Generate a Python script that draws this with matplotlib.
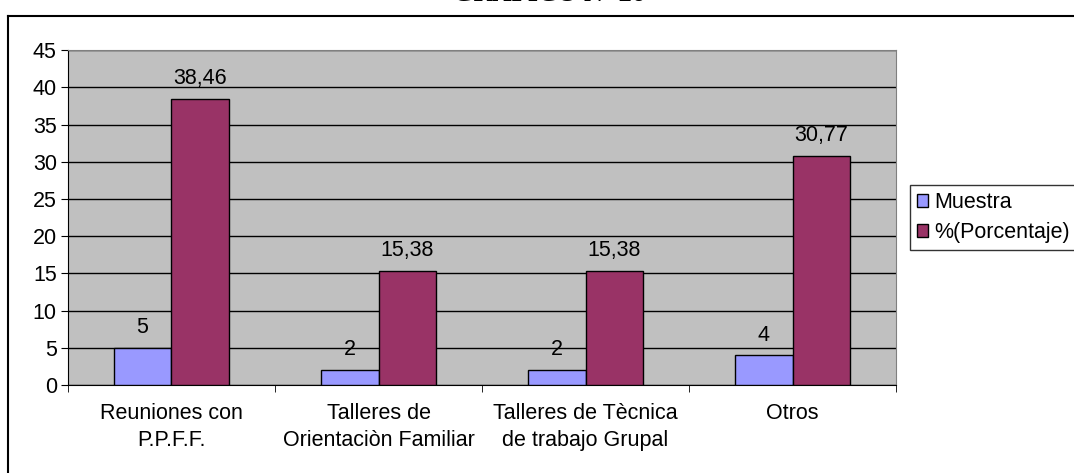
import numpy as np
import matplotlib
matplotlib.use('Agg')
import matplotlib.pyplot as plt
from matplotlib.lines import Line2D

plt.rcParams['font.family'] = ['Liberation Sans', 'DejaVu Sans']

categorias = ['Reuniones con\nP.P.F.F.', 'Talleres de\nOrientaciòn Familiar',
              'Talleres de Tècnica\nde trabajo Grupal', 'Otros']
muestra = [5, 2, 2, 4]
porcentaje = [38.46, 15.38, 15.38, 30.77]
series = ['Muestra', '%(Porcentaje)']
yticks = [0, 5, 10, 15, 20, 25, 30, 35, 40, 45]

def fmt(v):
    if float(v).is_integer():
        return '%d' % v
    return ('%.2f' % v).replace('.', ',')

fs = 15.5

fig = plt.figure(figsize=(10.74, 4.73), dpi=100)
ax = fig.add_axes([0.0633, 0.186, 0.771, 0.708])
ax.set_facecolor('#C0C0C0')

x = np.arange(len(categorias))
w = 0.28
b1 = ax.bar(x - w/2, muestra, w, color='#9999FF', edgecolor='black', linewidth=1, label=series[0], zorder=3)
b2 = ax.bar(x + w/2, porcentaje, w, color='#993366', edgecolor='black', linewidth=1, label=series[1], zorder=3)

for bars, vals in [(b1, muestra), (b2, porcentaje)]:
    for r, v in zip(bars, vals):
        ax.annotate(fmt(v), (r.get_x() + r.get_width()/2, v), xytext=(0, 7),
                    textcoords='offset points', ha='center', va='bottom', fontsize=fs)

ax.set_xlim(-0.5, len(categorias) - 0.5)
ax.set_ylim(0, 45)
ax.set_yticks(yticks)
ax.yaxis.grid(True, color='black', linewidth=1, zorder=1)
ax.set_axisbelow(True)
ax.tick_params('y', labelsize=fs, length=5, direction='out', pad=3)
ax.set_xticks(x)
ax.set_xticklabels(categorias, fontsize=fs, linespacing=1.4)
ax.tick_params('x', length=0, pad=13)
ax.set_xticks(np.arange(len(categorias) + 1) - 0.5, minor=True)
ax.tick_params('x', which='minor', length=5)
for s in ['top', 'right']:
    ax.spines[s].set_color('#808080')
for s in ['left', 'bottom']:
    ax.spines[s].set_color('black')

leg = ax.legend(loc='center left', bbox_to_anchor=(1.017, 0.5), fontsize=fs, frameon=True,
                fancybox=False, edgecolor='black', handlelength=0.55, handleheight=0.55,
                handletextpad=0.25, borderpad=0.3, labelspacing=0.45, borderaxespad=0)
leg.get_frame().set_linewidth(1)

# marco exterior y titulo recortado
fig.add_artist(Line2D([0.0075, 1.0], [1 - 16/473, 1 - 16/473], color='black', linewidth=1.5))
fig.add_artist(Line2D([0.0075, 0.0075], [1 - 16/473, 0.0], color='black', linewidth=1.5))
fig.text(0.511, 1.012, 'GRAFICO Nº 26', ha='center', va='center', fontsize=19,
         fontweight='bold', family=['Liberation Serif', 'DejaVu Serif'])

plt.savefig('out.png', dpi=100)
